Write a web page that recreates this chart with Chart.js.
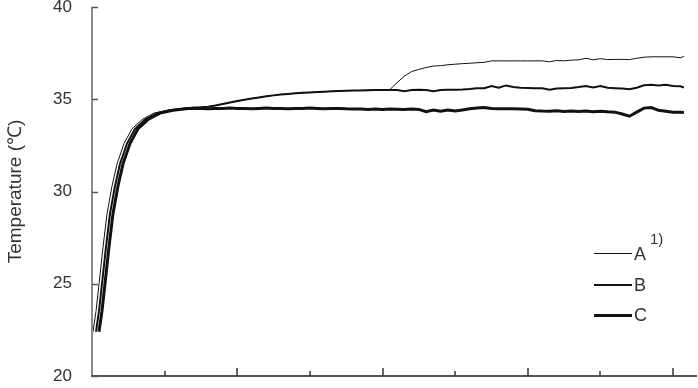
<!DOCTYPE html>
<html>
<head>
<meta charset="utf-8">
<script src="https://cdn.jsdelivr.net/npm/chart.js@4/dist/chart.umd.min.js"></script>
<style>
  html, body { margin: 0; padding: 0; background: #fff; }
  #wrap { position: relative; width: 698px; height: 388px; }
  #legend { position: absolute; left: 594px; top: 244px; font-family: "Liberation Sans", Arial, sans-serif; font-size: 18px; color: #333; }
  .row { position: absolute; left: 0; height: 20px; width: 90px; }
  .sw { position: absolute; left: 0; width: 38px; background: #111; }
  .lb { position: absolute; left: 40px; top: 0; line-height: 20px; }
  .sup { position: absolute; left: 56px; top: -15px; line-height: 20px; font-size: 15px; }
</style>
</head>
<body>
<div id="wrap">
  <canvas id="c" width="698" height="388"></canvas>
  <div id="legend">
    <div class="row" style="top:0px"><div class="sw" style="top:9px;height:1px"></div><span class="lb">A</span><span class="sup">1)</span></div>
    <div class="row" style="top:31px"><div class="sw" style="top:9px;height:2px"></div><span class="lb">B</span></div>
    <div class="row" style="top:61px"><div class="sw" style="top:9px;height:3px"></div><span class="lb">C</span></div>
  </div>
</div>
<script>
// ---- Data (x in axis tick units, y in °C) ----
const riseTime = [0.055, 0.096, 0.138, 0.193, 0.248, 0.317, 0.386, 0.482, 0.592, 0.730, 0.895, 1.074, 1.281];
const riseTemp = [22.4, 23.5, 25.0, 27.0, 28.8, 30.3, 31.5, 32.6, 33.4, 33.9, 34.25, 34.4, 34.5];
const riseShiftA = -0.041;
const riseShiftC = 0.041;

const plateauTime = [1.4,1.5,1.6,1.7,1.8,1.9,2.0,2.1,2.2,2.3,2.4,2.5,2.6,2.7,2.8,2.9,3.0,3.1,3.2,3.3,3.4,3.5,3.6,3.7,3.8,3.9,4.0,4.1,4.2,4.3,4.4,4.5,4.6,4.7,4.8,4.9,5.0,5.1,5.2,5.3,5.4,5.5,5.6,5.7,5.8,5.9,6.0,6.1,6.2,6.3,6.4,6.5,6.6,6.7,6.8,6.9,7.0,7.1,7.2,7.3,7.4,7.5,7.6,7.7,7.8,7.9,8.0,8.1,8.15];

const plateauA = [34.55,34.57,34.6,34.66,34.74,34.82,34.9,34.97,35.04,35.1,35.16,35.21,35.26,35.29,35.32,35.35,35.37,35.39,35.41,35.43,35.45,35.46,35.47,35.48,35.49,35.5,35.5,35.52,35.9,36.25,36.5,36.62,36.72,36.8,36.82,36.87,36.9,36.93,36.95,36.98,37.0,37.08,37.08,37.08,37.08,37.08,37.08,37.08,37.08,37.03,37.1,37.08,37.12,37.14,37.22,37.14,37.2,37.15,37.16,37.16,37.15,37.22,37.28,37.3,37.3,37.3,37.3,37.25,37.32];

const plateauB = [34.55,34.57,34.6,34.66,34.74,34.82,34.9,34.97,35.04,35.1,35.16,35.21,35.26,35.29,35.32,35.35,35.37,35.39,35.41,35.43,35.45,35.46,35.47,35.48,35.49,35.5,35.5,35.5,35.5,35.44,35.5,35.51,35.5,35.44,35.5,35.51,35.52,35.53,35.55,35.6,35.6,35.72,35.62,35.75,35.66,35.62,35.61,35.6,35.6,35.52,35.58,35.6,35.61,35.66,35.72,35.64,35.72,35.62,35.6,35.58,35.54,35.62,35.76,35.78,35.74,35.78,35.72,35.7,35.64];

const plateauC = [34.5,34.5,34.48,34.5,34.5,34.52,34.5,34.5,34.48,34.5,34.52,34.5,34.5,34.48,34.5,34.5,34.52,34.5,34.48,34.5,34.5,34.48,34.47,34.47,34.45,34.47,34.45,34.47,34.46,34.45,34.47,34.45,34.33,34.42,34.35,34.42,34.36,34.42,34.48,34.52,34.55,34.5,34.48,34.48,34.48,34.47,34.46,34.38,34.36,34.35,34.37,34.34,34.36,34.33,34.36,34.32,34.35,34.32,34.3,34.2,34.08,34.3,34.52,34.55,34.4,34.35,34.3,34.3,34.28];

const yTicks = [20, 25, 30, 35, 40];
const xMinorTicks = [1, 3, 5, 7];
const xMajorTicks = [2, 4, 6, 8];

function buildSeries(riseShift, plateau) {
  const pts = riseTime.map((t, i) => ({ x: t + riseShift, y: riseTemp[i] }));
  plateauTime.forEach((t, i) => pts.push({ x: t, y: plateau[i] }));
  return pts;
}

const tickPlugin = {
  id: 'inwardTicks',
  afterDatasetsDraw(chart) {
    const ctx = chart.ctx, xs = chart.scales.x, ys = chart.scales.y;
    const area = chart.chartArea;
    ctx.save();
    ctx.lineWidth = 2;
    ctx.strokeStyle = '#8a8a8a';
    ctx.beginPath(); ctx.moveTo(area.left, area.top); ctx.lineTo(area.left, area.bottom); ctx.stroke();
    ctx.strokeStyle = '#555';
    ctx.beginPath(); ctx.moveTo(area.left - 1, area.bottom); ctx.lineTo(area.right, area.bottom); ctx.stroke();
    ctx.strokeStyle = '#555';
    ctx.lineWidth = 1.5;
    yTicks.forEach(v => {
      const p = Math.round(ys.getPixelForValue(v)) + 0.5;
      ctx.beginPath(); ctx.moveTo(area.left, p); ctx.lineTo(area.left + 6, p); ctx.stroke();
    });
    ctx.lineWidth = 1.5;
    ctx.strokeStyle = '#333';
    xMinorTicks.forEach(v => {
      const p = Math.round(xs.getPixelForValue(v));
      ctx.beginPath(); ctx.moveTo(p, area.bottom); ctx.lineTo(p, area.bottom - 5); ctx.stroke();
    });
    xMajorTicks.forEach(v => {
      const p = Math.round(xs.getPixelForValue(v));
      ctx.beginPath(); ctx.moveTo(p, area.bottom); ctx.lineTo(p, area.bottom - 8); ctx.stroke();
    });
    ctx.restore();
  }
};

new Chart(document.getElementById('c'), {
  type: 'line',
  data: {
    datasets: [
      { label: 'A', data: buildSeries(riseShiftA, plateauA), borderColor: '#111', borderWidth: 1, pointRadius: 0, tension: 0 },
      { label: 'B', data: buildSeries(0, plateauB), borderColor: '#111', borderWidth: 2, pointRadius: 0, tension: 0 },
      { label: 'C', data: buildSeries(riseShiftC, plateauC), borderColor: '#111', borderWidth: 3, pointRadius: 0, tension: 0 }
    ]
  },
  options: {
    responsive: false,
    animation: false,
    layout: { padding: { top: 7, right: 1, bottom: 12, left: 0 } },
    plugins: { legend: { display: false }, tooltip: { enabled: false } },
    scales: {
      x: {
        type: 'linear', min: 0, max: 8.33,
        afterFit(scale) { scale.height = 0; scale.paddingLeft = 0; scale.paddingRight = 0; },
        grid: { display: false, drawTicks: false },
        border: { display: false },
        ticks: { display: false }
      },
      y: {
        min: 20, max: 40,
        afterFit(scale) { scale.width = 92; scale.paddingTop = 0; scale.paddingBottom = 0; },
        grid: { display: false, drawTicks: false },
        border: { display: false },
        ticks: {
          stepSize: 5, padding: 20,
          color: '#333',
          font: { family: '"Liberation Sans", Arial, sans-serif', size: 17 }
        },
        title: {
          display: true, text: 'Temperature (℃)', color: '#333', padding: { top: 4, bottom: 0 },
          font: { family: '"Liberation Sans", Arial, sans-serif', size: 19 }
        }
      }
    }
  },
  plugins: [tickPlugin]
});
</script>
</body>
</html>
